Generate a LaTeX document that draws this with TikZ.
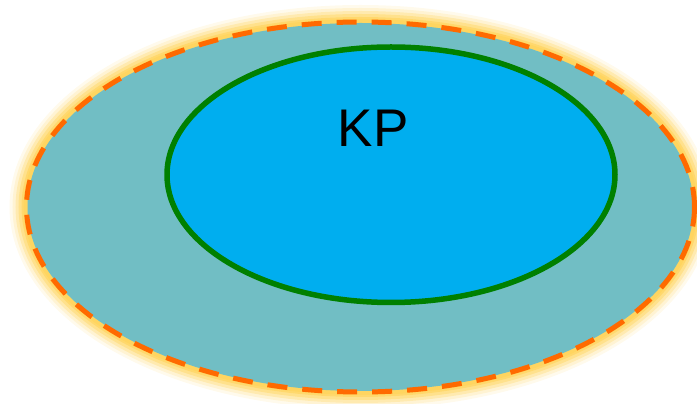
\documentclass[tikz,border=0pt]{standalone}
\usepackage{fontspec}
\setmainfont{Liberation Sans}
\usetikzlibrary{shapes.geometric}
\definecolor{tealfill}{HTML}{71BEC4}
\definecolor{bluefill}{HTML}{00AEEF}
\definecolor{glow}{HTML}{FFD560}
\definecolor{dashor}{HTML}{FF6A00}
\definecolor{greenline}{HTML}{008000}
\tikzset{
  outerell/.style={ellipse, minimum width=668pt, minimum height=370pt, inner sep=0pt},
  innerell/.style={ellipse, minimum width=448pt, minimum height=255.5pt, inner sep=0pt},
}
\begin{document}
\begin{tikzpicture}[x=1pt,y=1pt]
\useasboundingbox (0,0) rectangle (697,404);
% glow
\foreach \w/\o in {34/0.12,28/0.18,22/0.3,16/0.45,10/0.7,6/1}{
  \draw[glow, line width=\w pt, opacity=\o] (360.5,197) ellipse [x radius=334, y radius=185];
}
\fill[tealfill] (360.5,197) ellipse [x radius=333, y radius=184];
\node[outerell, draw=dashor, line width=5pt, dash pattern=on 20pt off 15pt] (outer) at (360.5,197) {};
\node[innerell, fill=bluefill, draw=greenline, line width=5.5pt] (inner) at (391,229.25) {};
\node[font=\fontsize{53}{60}\selectfont, inner sep=0pt] (kp) at (373,276) {KP};
\end{tikzpicture}
\end{document}
